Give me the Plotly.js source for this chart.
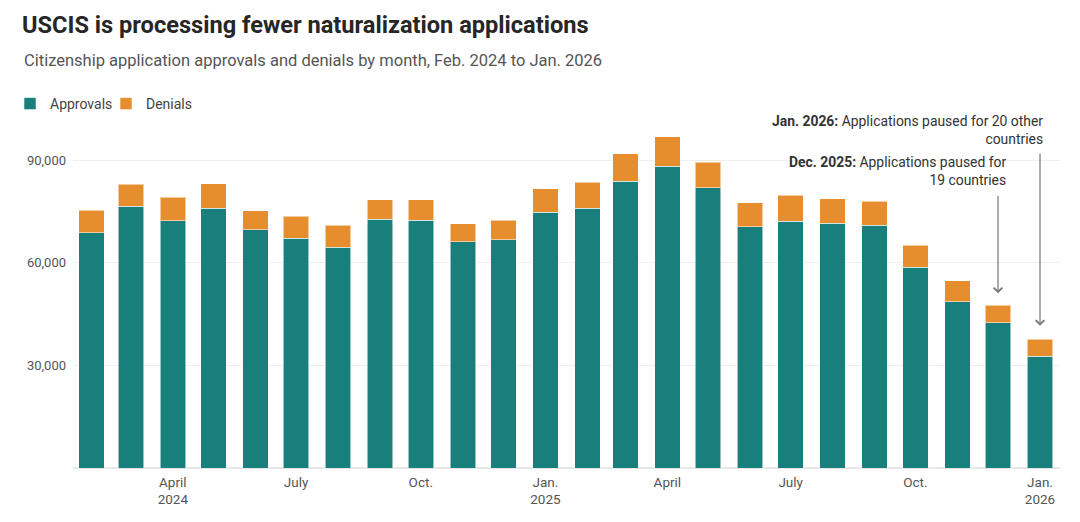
<!DOCTYPE html>
<html>
<head>
<meta charset="utf-8">
<script src="https://cdn.plot.ly/plotly-3.0.1.min.js"></script>
<style>
  html, body { margin: 0; padding: 0; background: #fff; }
  #chart { width: 1080px; height: 522px; }
</style>
</head>
<body>
<div id="chart"></div>
<script>
// Months (first of each month), Feb. 2024 to Jan. 2026
const months = [
  '2024-02-01','2024-03-01','2024-04-01','2024-05-01','2024-06-01','2024-07-01',
  '2024-08-01','2024-09-01','2024-10-01','2024-11-01','2024-12-01','2025-01-01',
  '2025-02-01','2025-03-01','2025-04-01','2025-05-01','2025-06-01','2025-07-01',
  '2025-08-01','2025-09-01','2025-10-01','2025-11-01','2025-12-01','2026-01-01'
];
// Citizenship application approvals by month
const approvals = [
  68800, 76500, 72300, 76000, 69600, 67200,
  64500, 72800, 72400, 66100, 66800, 74800,
  75900, 83800, 88300, 81900, 70600, 72100,
  71600, 71000, 58700, 48600, 42400, 32700
];
// Citizenship application denials by month
const denials = [
  6600, 6400, 6900, 7100, 5600, 6400,
  6500, 5700, 6100, 5300, 5600, 6900,
  7700, 8100, 8600, 7500, 7000, 7600,
  7100, 7000, 6500, 6100, 5200, 5000
];
// Axis tick positions and labels
const xTickVals = ['2024-04-01','2024-07-01','2024-10-01','2025-01-01','2025-04-01','2025-07-01','2025-10-01','2026-01-01'];
const xTickText = ['April<br>2024','July','Oct.','Jan.<br>2025','April','July','Oct.','Jan.<br>2026'];
const yTickVals = [30000, 60000, 90000];
const yTickText = ['30,000', '60,000', '90,000'];

const TEAL = '#187f7c';
const ORANGE = '#e68d2e';
const FONT = 'Roboto, "Noto Sans", Arial, sans-serif';
const DAY = 86400000;
const barWidth = 18.8 * DAY;

const traces = [
  {
    type: 'bar', name: 'Approvals', x: months, y: approvals,
    width: months.map(() => barWidth),
    marker: { color: TEAL, line: { color: 'rgba(255,255,255,0.55)', width: 1 } },
    hoverinfo: 'skip'
  },
  {
    type: 'bar', name: 'Denials', x: months, y: denials,
    width: months.map(() => barWidth),
    marker: { color: ORANGE, line: { color: 'rgba(255,255,255,0.55)', width: 1 } },
    hoverinfo: 'skip'
  }
];

const layout = {
  width: 1080, height: 522,
  paper_bgcolor: '#ffffff', plot_bgcolor: '#ffffff',
  margin: { l: 73, r: 20, t: 126, b: 54, pad: 0 },
  barmode: 'stack',
  font: { family: FONT, color: '#555555', size: 13 },
  title: {
    text: '<b>USCIS is processing fewer naturalization applications</b>',
    font: { family: FONT, size: 23.6, color: '#262626' },
    x: 22 / 1080, xanchor: 'left', xref: 'container',
    y: 1 - 25 / 522, yanchor: 'middle', yref: 'container'
  },
  showlegend: true,
  legend: {
    orientation: 'h', xref: 'container', yref: 'container',
    x: 10 / 1080, xanchor: 'left', y: 1 - 88 / 522, yanchor: 'top',
    font: { family: FONT, size: 14, color: '#444444' },
    traceorder: 'normal', itemclick: false, itemdoubleclick: false,
    entrywidth: 51, entrywidthmode: 'pixels',
    bgcolor: 'rgba(0,0,0,0)'
  },
  xaxis: {
    type: 'date',
    range: ['2024-01-18 08:00', '2026-01-15 18:00'],
    tickvals: xTickVals, ticktext: xTickText,
    showgrid: false, zeroline: false, showline: false, ticks: '',
    ticklabelstandoff: 4,
    tickfont: { family: FONT, size: 13.5, color: '#555555' },
    fixedrange: true
  },
  yaxis: {
    range: [0, 100000],
    tickvals: yTickVals, ticktext: yTickText,
    showgrid: true, gridcolor: '#efefef', gridwidth: 1,
    zeroline: true, zerolinecolor: '#e8e8e8', zerolinewidth: 2,
    showline: false, ticks: '', ticklabelstandoff: 6,
    tickfont: { family: FONT, size: 13, color: '#555555' },
    fixedrange: true
  },
  annotations: [
    {
      xref: 'paper', yref: 'paper', x: 0, xanchor: 'left',
      xshift: -51, y: 408 / 342, yanchor: 'middle',
      text: 'Citizenship application approvals and denials by month, Feb. 2024 to Jan. 2026',
      showarrow: false, font: { family: FONT, size: 16.5, color: '#555555' }
    },
    {
      xref: 'x', yref: 'y', x: months[23], y: 98800, xanchor: 'right', yanchor: 'middle',
      xshift: 5, align: 'right', showarrow: false,
      text: '<b>Jan. 2026:</b> Applications paused for 20 other<br>countries',
      font: { family: FONT, size: 13.9, color: '#333333' }
    },
    {
      xref: 'x', yref: 'y', x: months[22], y: 86700, xanchor: 'right', yanchor: 'middle',
      xshift: 10, align: 'right', showarrow: false,
      text: '<b>Dec. 2025:</b> Applications paused for<br>19 countries',
      font: { family: FONT, size: 13.9, color: '#333333' }
    },
    {
      xref: 'x', yref: 'y', x: months[22], y: 51065,
      axref: 'x', ayref: 'y', ax: months[22], ay: 80020,
      showarrow: true, arrowhead: 4, arrowsize: 1.4, arrowwidth: 1.2, arrowcolor: '#777777',
      text: ''
    },
    {
      xref: 'x', yref: 'y', x: months[23], y: 41570,
      axref: 'x', ayref: 'y', ax: months[23], ay: 92430,
      showarrow: true, arrowhead: 4, arrowsize: 1.4, arrowwidth: 1.2, arrowcolor: '#777777',
      text: ''
    }
  ]
};

Plotly.newPlot('chart', traces, layout, { staticPlot: true, displayModeBar: false });
</script>
</body>
</html>
